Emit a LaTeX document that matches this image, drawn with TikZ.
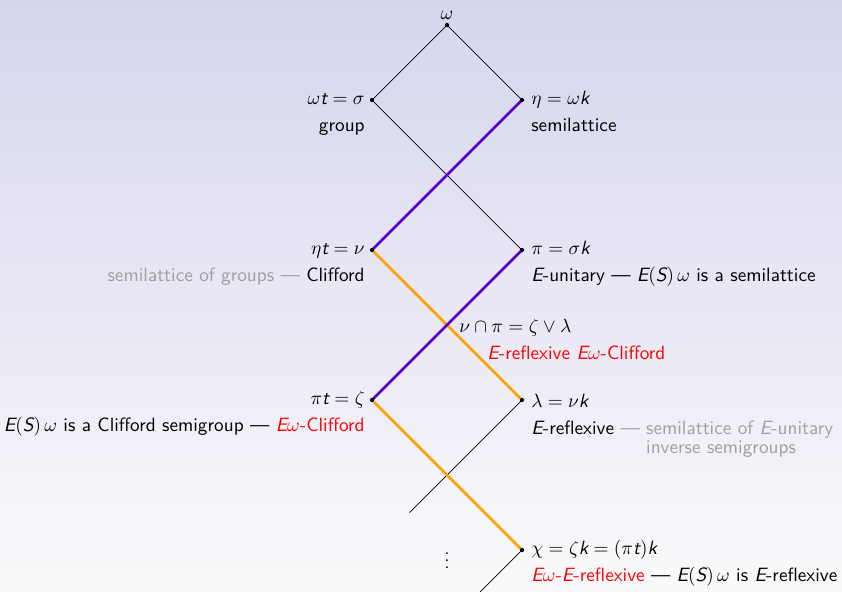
\documentclass[tikz,border=0pt]{standalone}
\usetikzlibrary{calc,positioning}
\definecolor{bgtop}{RGB}{213,213,238}
\definecolor{bgbottom}{RGB}{250,250,252}
\definecolor{myviolet}{RGB}{85,0,200}
\definecolor{myorange}{RGB}{255,160,0}
\definecolor{mygray}{RGB}{160,160,160}
\newcommand{\mv}[1]{\textit{#1}}

\begin{document}
\begin{tikzpicture}[font=\sffamily\fontsize{10.95}{13.6}\selectfont,
  llbl/.style={anchor=base east,align=right,inner sep=0pt},
  rlbl/.style={anchor=base west,align=left,inner sep=0pt},
  path/.style={line width=1.5pt}]
  \def\d{1.5}
  \def\lo{-0.63}
  \clip (-8.94,-11.32) rectangle (7.9,0.5);
  \shade[top color=bgtop,bottom color=bgbottom] (-8.94,-11.32) rectangle (7.9,0.5);

  \coordinate (w) at (0,0);
  \coordinate (s) at (-\d,-\d);
  \coordinate (e) at (\d,-\d);
  \coordinate (n) at (-\d,-3*\d);
  \coordinate (p) at (\d,-3*\d);
  \coordinate (np) at (0,-4*\d);
  \coordinate (z) at (-\d,-5*\d);
  \coordinate (l) at (\d,-5*\d);
  \coordinate (c) at (\d,-7*\d);
  \coordinate (lend) at (-0.75,-9.75);
  \coordinate (cend) at (0.3,-11.7);

  \draw (w) -- (s);
  \draw (w) -- (e);
  \draw (s) -- (p);
  \draw (l) -- (lend);
  \draw (c) -- (cend);
  \draw[path,myorange] (n) -- (l);
  \draw[path,myorange] (z) -- (c);
  \draw[path,myviolet] (e) -- (n);
  \draw[path,myviolet] (p) -- (z);
  \foreach \v in {w,s,e,n,p,z,l,c}
    \fill (\v) circle (1.2pt);

  \node[above=3pt of w,inner sep=0pt] (wlbl) {$\omega$};
  \node[llbl] (slbl) at ($(s)+(-0.14,\lo)$) {$\omega\mv{t}=\sigma$\\[2pt] group};
  \node[rlbl] (elbl) at ($(e)+(0.18,\lo)$) {$\eta=\omega\mv{k}$\\[2pt] semilattice};
  \node[llbl] (nlbl) at ($(n)+(-0.14,\lo)$)
    {$\eta\mv{t}=\nu$\\[2pt] \textcolor{mygray}{semilattice of groups ---} Clifford};
  \node[rlbl] (plbl) at ($(p)+(0.18,\lo)$)
    {$\pi=\sigma\mv{k}$\\[2pt] $\mv{E}$-unitary --- $\mv{E}(\mv{S})\,\omega$ is a semilattice};
  \node[rlbl] (nplbl) at ($(np)+(0.24,-0.69)$)
    {$\nu\cap\pi=\zeta\vee\lambda$\\[2pt] \hspace*{0.56cm}\textcolor{red}{$\mv{E}$-reflexive $\mv{E}\omega$-Clifford}};
  \node[llbl] (zlbl) at ($(z)+(-0.14,\lo)$)
    {$\pi\mv{t}=\zeta$\\[2pt] $\mv{E}(\mv{S})\,\omega$ is a Clifford semigroup --- \textcolor{red}{$\mv{E}\omega$-Clifford}};
  \node[anchor=north west,align=left,inner sep=0pt] (llbl) at ($(l)+(0.18,0.13)$)
    {$\lambda=\nu\mv{k}$\\[2pt] $\mv{E}$-reflexive \textcolor{mygray}{--- \begin{tabular}[t]{@{}l@{}}semilattice of $\mv{E}$-unitary\\[-3pt] inverse semigroups\end{tabular}}};
  \node[rlbl] (clbl) at ($(c)+(0.18,\lo)$)
    {$\chi=\zeta\mv{k}=(\pi\mv{t})\mv{k}$\\[2pt] \textcolor{red}{$\mv{E}\omega$-$\mv{E}$-reflexive} --- $\mv{E}(\mv{S})\,\omega$ is $\mv{E}$-reflexive};
  \node[inner sep=0pt] (vdots) at (0,-10.6) {$\vdots$};
\end{tikzpicture}
\end{document}
